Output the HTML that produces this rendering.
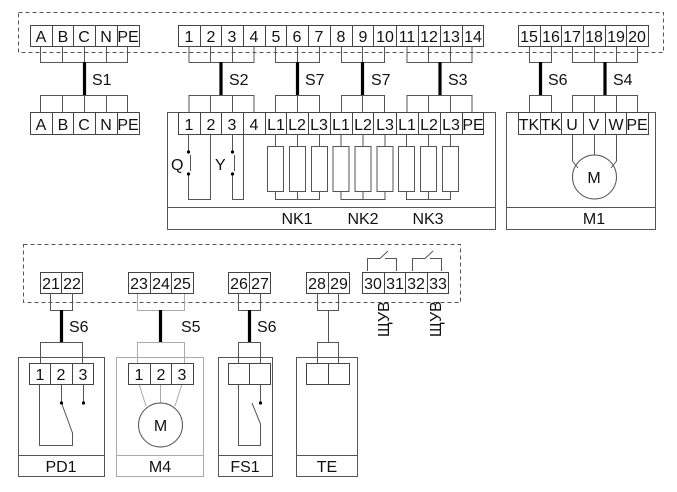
<!DOCTYPE html>
<html><head><meta charset="utf-8"><style>
html,body{margin:0;padding:0;background:#fff;}
svg{display:block;}
text{font-family:"Liberation Sans",Arial,sans-serif;font-size:16px;fill:#111;}
</style></head><body>
<svg width="677" height="492" viewBox="0 0 677 492" xmlns="http://www.w3.org/2000/svg">
<g fill="none" stroke="#555" stroke-width="1">
<rect x="18.5" y="12.5" width="645" height="40" stroke-dasharray="4,3"/>
<rect x="23.5" y="244.5" width="437" height="58" stroke-dasharray="4,3"/>
<rect x="167.5" y="112.5" width="328" height="117"/>
<line x1="167" y1="207.5" x2="495" y2="207.5"/>
<rect x="506.5" y="112.5" width="149" height="117"/>
<line x1="506" y1="207.5" x2="655" y2="207.5"/>
<path d="M40.5 46V62.5H127.5V46M62.5 46V62M84.5 46V62M106.5 46V62"/>
<path d="M40.5 112V95.5H127.5V112M62.5 95V112M84.5 95V112M106.5 95V112"/>
<path d="M189 46V62.5H254V46M210.5 46V62M232.5 46V62"/>
<path d="M189 112V95.5H254V112M210.5 95V112M232.5 95V112"/>
<path d="M275.5 46V62.5H319.5V46M297.5 46V62"/>
<path d="M275.5 112V95.5H319.5V112M297.5 95V112"/>
<path d="M341.5 46V62.5H384.5V46M362.5 46V62"/>
<path d="M341.5 112V95.5H384.5V112M362.5 95V112"/>
<path d="M407 46V62.5H472V46M428.5 46V62M450.5 46V62"/>
<path d="M407 112V95.5H472V112M428.5 95V112M450.5 95V112"/>
<path d="M529.5 46V62.5H551.5V46"/>
<path d="M529.5 112V95.5H551.5V112"/>
<path d="M572.5 46V62.5H637.5V46M594.5 46V62M616.5 46V62"/>
<path d="M572.5 112V95.5H637.5V112M594.5 95V112M616.5 95V112"/>
<path d="M188.5 134V152M188.5 174V199.5H210.5V134"/>
<path d="M190.5 155V171"/>
<path d="M232.5 134V152M232.5 174V199.5H243.5V134"/>
<path d="M234.5 155V171"/>
<g id="h">
<path d="M275.5 134V146M297.5 134V146M319.5 134V146"/>
<rect x="267.5" y="146.5" width="16" height="45"/>
<rect x="289.5" y="146.5" width="16" height="45"/>
<rect x="311.5" y="146.5" width="16" height="45"/>
<path d="M275.5 191V199.5H319.5V191M297.5 191V199"/>
</g>
<use href="#h" x="65.5"/>
<use href="#h" x="131"/>
<path d="M594.5 134V155M572.5 134V161L578 168M616.5 134V161L611 168"/>
<circle cx="594.5" cy="177" r="22"/>
<rect x="18.5" y="357.5" width="86" height="119"/>
<line x1="18" y1="455.5" x2="104" y2="455.5"/>
<rect x="218.5" y="357.5" width="54" height="119"/>
<line x1="218" y1="455.5" x2="272" y2="455.5"/>
<rect x="296.5" y="357.5" width="61" height="119"/>
<line x1="296" y1="455.5" x2="357" y2="455.5"/>
<path d="M50.5 293V310.5H72.5V293"/>
<path d="M40.5 363V342.5H82.5V363"/>
<path d="M39.5 384V445.5H72.5V433L61.5 403M61.5 384V403M83.5 384V403"/>
<path d="M238.5 293V310.5H260.5V293"/>
<path d="M238.5 363V342.5H260.5V363"/>
<path d="M238.5 384V445.5H260.5V424L252 403M260.5 384V403"/>
<path d="M317.5 293V310.5H338.5V293"/>
<path d="M317.5 363V342.5H338.5V363"/>
<line x1="328.5" y1="310" x2="328.5" y2="342"/>
<path d="M367.5 271V258.5H380L388 251M385 258.5H396.5V271"/>
<path d="M412.5 271V258.5H425L433 251M430 258.5H441.5V271"/>
</g>
<g fill="none" stroke="#aaa" stroke-width="1">
<rect x="116.5" y="357.5" width="87" height="119"/>
<line x1="116" y1="455.5" x2="203" y2="455.5"/>
<path d="M137.5 293V310.5H184.5V293"/>
<path d="M137.5 363V342.5H184.5V363"/>
<path d="M139 384L146 406M160.5 384V403M182 384L175 406"/>
</g>
<circle cx="160.5" cy="425" r="22" fill="none" stroke="#555"/>
<g stroke="#000" stroke-width="3.2">
<line x1="84.5" y1="62" x2="84.5" y2="95"/>
<line x1="221" y1="62" x2="221" y2="95"/>
<line x1="297.5" y1="62" x2="297.5" y2="95"/>
<line x1="362.5" y1="62" x2="362.5" y2="95"/>
<line x1="440" y1="62" x2="440" y2="95"/>
<line x1="540.5" y1="62" x2="540.5" y2="95"/>
<line x1="605" y1="62" x2="605" y2="95"/>
<line x1="61.5" y1="310" x2="61.5" y2="342"/>
<line x1="160.5" y1="310" x2="160.5" y2="342"/>
<line x1="249.5" y1="310" x2="249.5" y2="342"/>
</g>
<g fill="#000">
<circle cx="188.5" cy="152" r="1.6"/><circle cx="188.5" cy="174" r="1.6"/>
<circle cx="232.5" cy="152" r="1.6"/><circle cx="232.5" cy="174" r="1.6"/>
<circle cx="61.5" cy="403" r="1.6"/><circle cx="83.5" cy="403" r="1.6"/>
<circle cx="260.5" cy="403" r="1.6"/>
</g>
<g fill="#fff" stroke="#444" stroke-width="1">
<path d="M30.5 25.5H139.5V46.5H30.5ZM52.5 25V46M73.5 25V46M95.5 25V46M117.5 25V46"/>
<path d="M30.5 112.5H139.5V134.5H30.5ZM52.5 112V134M73.5 112V134M95.5 112V134M117.5 112V134"/>
<path d="M178.5 25.5H483.5V46.5H178.5ZM200.5 25V46M221.5 25V46M243.5 25V46M265.5 25V46M286.5 25V46M308.5 25V46M330.5 25V46M352.5 25V46M373.5 25V46M396.5 25V46M418.5 25V46M440.5 25V46M462.5 25V46"/>
<path d="M178.5 112.5H483.5V134.5H178.5ZM200.5 112V134M221.5 112V134M243.5 112V134M265.5 112V134M286.5 112V134M308.5 112V134M330.5 112V134M352.5 112V134M373.5 112V134M396.5 112V134M418.5 112V134M440.5 112V134M462.5 112V134"/>
<path d="M518.5 25.5H648.5V46.5H518.5ZM540.5 25V46M561.5 25V46M583.5 25V46M605.5 25V46M626.5 25V46"/>
<path d="M518.5 112.5H648.5V134.5H518.5ZM540.5 112V134M561.5 112V134M583.5 112V134M605.5 112V134M626.5 112V134"/>
<path d="M40.5 272.5H82.5V293.5H40.5ZM61.5 272V293"/>
<path d="M128.5 272.5H193.5V293.5H128.5ZM150.5 272V293M171.5 272V293"/>
<path d="M228.5 272.5H270.5V293.5H228.5ZM249.5 272V293"/>
<path d="M306.5 272.5H349.5V293.5H306.5ZM328.5 272V293"/>
<path d="M362.5 272.5H448.5V293.5H362.5ZM384.5 272V293M405.5 272V293M427.5 272V293"/>
<path d="M29.5 363.5H93.5V384.5H29.5ZM50.5 363V384M72.5 363V384"/>
<path d="M128.5 363.5H193.5V384.5H128.5ZM150.5 363V384M171.5 363V384"/>
<path d="M228.5 363.5H270.5V384.5H228.5ZM249.5 363V384"/>
<path d="M306.5 363.5H349.5V384.5H306.5ZM328.5 363V384"/>
</g>
<g text-anchor="middle">
<text x="41" y="42">A</text><text x="63" y="42">B</text><text x="84" y="42">C</text><text x="106" y="42">N</text><text x="128" y="42">PE</text>
<text x="41" y="130">A</text><text x="63" y="130">B</text><text x="84" y="130">C</text><text x="106" y="130">N</text><text x="128" y="130">PE</text>
<text x="189" y="42">1</text><text x="211" y="42">2</text><text x="232" y="42">3</text><text x="254" y="42">4</text><text x="276" y="42">5</text><text x="297" y="42">6</text><text x="319" y="42">7</text><text x="341" y="42">8</text><text x="363" y="42">9</text><text x="385" y="42">10</text><text x="407" y="42">11</text><text x="429" y="42">12</text><text x="451" y="42">13</text><text x="473" y="42">14</text>
<text x="189" y="130">1</text><text x="211" y="130">2</text><text x="232" y="130">3</text><text x="254" y="130">4</text><text x="276" y="130">L1</text><text x="297" y="130">L2</text><text x="319" y="130">L3</text><text x="341" y="130">L1</text><text x="363" y="130">L2</text><text x="385" y="130">L3</text><text x="407" y="130">L1</text><text x="429" y="130">L2</text><text x="451" y="130">L3</text><text x="473" y="130">PE</text>
<text x="529" y="42">15</text><text x="551" y="42">16</text><text x="572" y="42">17</text><text x="594" y="42">18</text><text x="616" y="42">19</text><text x="637" y="42">20</text>
<text x="529" y="130">TK</text><text x="551" y="130">TK</text><text x="572" y="130">U</text><text x="594" y="130">V</text><text x="616" y="130">W</text><text x="637" y="130">PE</text>
<text x="594" y="183">M</text>
<text x="297" y="224">NK1</text><text x="363" y="224">NK2</text><text x="428" y="224">NK3</text><text x="594" y="224">M1</text>
<text x="51" y="289">21</text><text x="72" y="289">22</text>
<text x="139" y="289">23</text><text x="161" y="289">24</text><text x="182" y="289">25</text>
<text x="239" y="289">26</text><text x="260" y="289">27</text>
<text x="317" y="289">28</text><text x="339" y="289">29</text>
<text x="373" y="289">30</text><text x="395" y="289">31</text><text x="416" y="289">32</text><text x="438" y="289">33</text>
<text x="40" y="380">1</text><text x="61" y="380">2</text><text x="83" y="380">3</text>
<text x="139" y="380">1</text><text x="161" y="380">2</text><text x="182" y="380">3</text>
<text x="160.5" y="431">M</text>
<text x="61" y="472">PD1</text><text x="160" y="472">M4</text><text x="245" y="472">FS1</text><text x="327" y="472">TE</text>
</g>
<text x="92" y="85">S1</text><text x="229" y="85">S2</text><text x="305" y="85">S7</text><text x="371" y="85">S7</text><text x="448" y="85">S3</text><text x="548" y="85">S6</text><text x="613" y="85">S4</text>
<text x="69" y="332">S6</text><text x="181" y="332">S5</text><text x="257" y="332">S6</text>
<text x="171" y="170">Q</text><text x="215" y="170">Y</text>
<text transform="translate(389,337) rotate(-90)">ЩУВ</text>
<text transform="translate(441,337) rotate(-90)">ЩУВ</text>
</svg>
</body></html>
